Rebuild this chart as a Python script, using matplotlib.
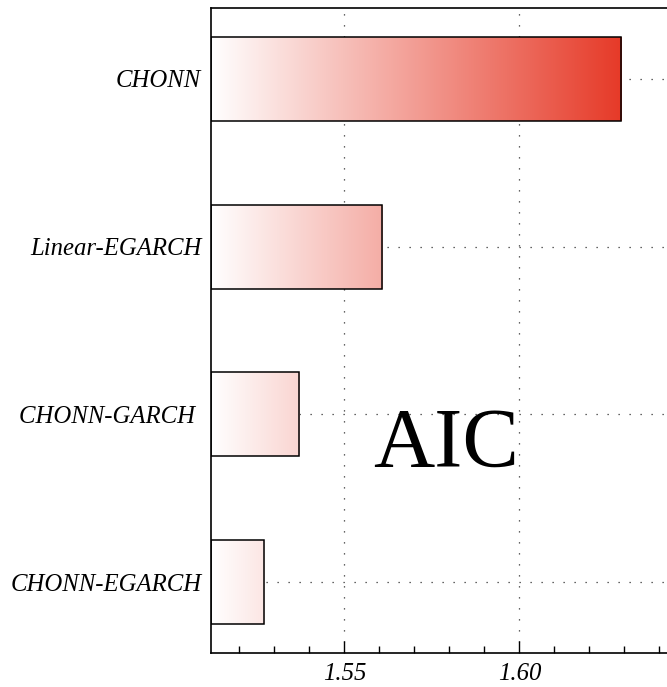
import numpy as np
import matplotlib
matplotlib.use("Agg")
import matplotlib.pyplot as plt
from matplotlib.colors import LinearSegmentedColormap
from matplotlib.patches import Rectangle
from matplotlib.ticker import MultipleLocator

models = ["CHONN-EGARCH", "CHONN-GARCH ", "Linear-EGARCH", "CHONN"]
aic = [1.5271, 1.5371, 1.5608, 1.6291]
xticks = [1.55, 1.60]
xtick_labels = ["1.55", "1.60"]

XMIN, XMAX = 1.5119, 1.645
YMIN, YMAX = -0.423, 3.423

fig = plt.figure(figsize=(6.67, 6.87), dpi=100)
ax = fig.add_axes([211/667, 34/687, (XMAX - XMIN) * 3500 / 667, 645/687])
ax.set_xlim(XMIN, XMAX)
ax.set_ylim(YMIN, YMAX)

cmap = LinearSegmentedColormap.from_list("wr", ["#ffffff", "#e63a28"])
grad = np.linspace(0, 1, 256).reshape(1, -1)
gmax = max(aic)
h = 0.5
for i, v in enumerate(aic):
    im = ax.imshow(grad, cmap=cmap, aspect="auto",
                   extent=[XMIN, gmax, i - h/2, i + h/2], zorder=2)
    rect = Rectangle((XMIN, i - h/2), v - XMIN, h, facecolor="none",
                     edgecolor="black", linewidth=1.1, zorder=3)
    ax.add_patch(rect)
    im.set_clip_path(rect)

ax.set_xlim(XMIN, XMAX)
ax.set_ylim(YMIN, YMAX)

serif = ["Liberation Serif", "DejaVu Serif"]
ax.set_yticks(range(len(models)))
ax.set_yticklabels(models)
ax.set_xticks(xticks)
ax.set_xticklabels(xtick_labels)
for lab in ax.get_xticklabels() + ax.get_yticklabels():
    lab.set_fontfamily(serif)
    lab.set_fontstyle("italic")
    lab.set_fontsize(17.8)
ax.xaxis.set_minor_locator(MultipleLocator(0.01))
ax.tick_params(axis="x", which="major", direction="in", length=9, width=1, pad=7)
ax.tick_params(axis="x", which="minor", direction="in", length=5, width=1)
ax.tick_params(axis="y", which="major", direction="in", length=9, width=1, pad=7)
ax.tick_params(top=False, right=False)

ax.grid(True, which="major", color="#333333", linestyle=(0, (1, 7.8)), linewidth=0.9, zorder=1)
ax.set_axisbelow(True)
for s in ax.spines.values():
    s.set_linewidth(1.2)

ax.text(446/667, 1 - 446/687, "AIC", transform=fig.transFigure, ha="center", va="center",
        fontsize=61, family=serif, zorder=5)

fig.savefig("out.png", dpi=100)
